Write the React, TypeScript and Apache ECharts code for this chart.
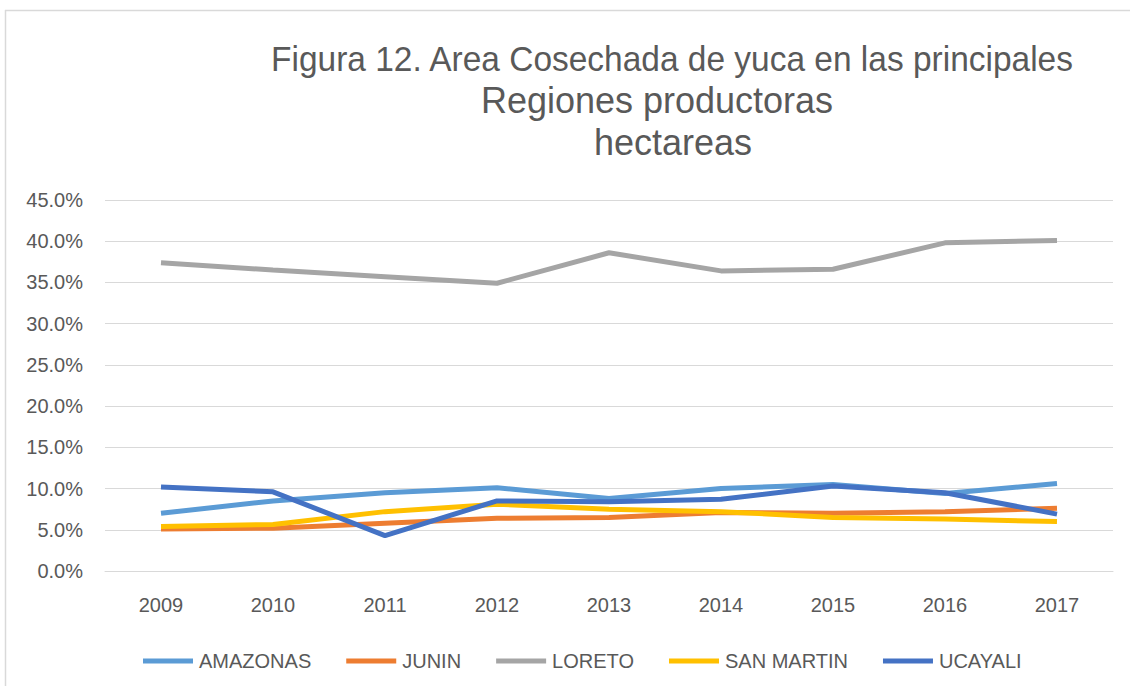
import React, { useEffect, useRef } from "react";
import * as echarts from "echarts";

const years = ["2009", "2010", "2011", "2012", "2013", "2014", "2015", "2016", "2017"];
const amazonas = [7.0, 8.5, 9.5, 10.1, 8.8, 10.0, 10.5, 9.4, 10.6];
const junin = [5.1, 5.2, 5.8, 6.4, 6.5, 7.1, 7.0, 7.2, 7.6];
const loreto = [37.4, 36.5, 35.7, 34.9, 38.6, 36.4, 36.6, 39.8, 40.1];
const sanMartin = [5.4, 5.65, 7.2, 8.1, 7.5, 7.2, 6.5, 6.3, 6.0];
const ucayali = [10.2, 9.6, 4.3, 8.5, 8.4, 8.7, 10.3, 9.5, 6.9];

const seriesNames = ["AMAZONAS", "JUNIN", "LORETO", "SAN MARTIN", "UCAYALI"];
const seriesData = [amazonas, junin, loreto, sanMartin, ucayali];
const seriesColors = ["#5B9BD5", "#ED7D31", "#A5A5A5", "#FFC000", "#4472C4"];

const titleLines = [
  "Figura 12. Area Cosechada de yuca en las principales",
  "Regiones productoras",
  "hectareas",
];

export default function App() {
  const ref = useRef<HTMLDivElement>(null);
  useEffect(() => {
    if (!ref.current) return;
    const chart = echarts.init(ref.current, null, { renderer: "svg" });
    const font = "'Liberation Sans', Arial, sans-serif";
    chart.setOption({
      animation: false,
      backgroundColor: "#ffffff",
      textStyle: { fontFamily: font },
      graphic: [
        { type: "line", shape: { x1: 5, y1: 10.5, x2: 1130, y2: 10.5 }, style: { stroke: "#d9d9d9", lineWidth: 1.5 } },
        { type: "line", shape: { x1: 5.5, y1: 10, x2: 5.5, y2: 686 }, style: { stroke: "#d9d9d9", lineWidth: 1.5 } },
        {
          type: "text", x: 672, y: 59, scaleX: 0.93,
          style: { text: titleLines[0], fill: "#595959", font: `36px ${font}`, textAlign: "center", textVerticalAlign: "middle" },
        },
        {
          type: "text", x: 657, y: 100,
          style: { text: titleLines[1], fill: "#595959", font: `36px ${font}`, textAlign: "center", textVerticalAlign: "middle" },
        },
        {
          type: "text", x: 673, y: 142,
          style: { text: titleLines[2], fill: "#595959", font: `36px ${font}`, textAlign: "center", textVerticalAlign: "middle" },
        },
      ],
      legend: {
        left: 138,
        top: 646,
        icon: "rect",
        itemWidth: 50,
        itemHeight: 5,
        itemGap: 35,
        textStyle: { color: "#595959", fontSize: 20, fontFamily: font, padding: [0, 0, 0, 1] },
        data: seriesNames,
      },
      grid: { left: 105, right: 17, top: 200, bottom: 115, containLabel: false },
      xAxis: {
        type: "category",
        data: years,
        boundaryGap: true,
        axisLine: { show: true, lineStyle: { color: "#d9d9d9", width: 1 } },
        axisTick: { show: false },
        axisLabel: { color: "#595959", fontSize: 20, margin: 24, fontFamily: font },
      },
      yAxis: {
        type: "value",
        min: 0,
        max: 45,
        interval: 5,
        axisLine: { show: false },
        axisTick: { show: false },
        axisLabel: {
          color: "#595959",
          fontSize: 20,
          margin: 22,
          fontFamily: font,
          formatter: (v: number) => `${v.toFixed(1)}%`,
        },
        splitLine: { lineStyle: { color: "#d9d9d9", width: 1 } },
      },
      series: seriesNames.map((name, i) => ({
        name,
        type: "line",
        data: seriesData[i],
        symbol: "none",
        showSymbol: false,
        lineStyle: { color: seriesColors[i], width: 5 },
        itemStyle: { color: seriesColors[i] },
      })),
    });
    return () => chart.dispose();
  }, []);
  return (
    <div
      ref={ref}
      style={{ position: "fixed", left: 0, top: 0, width: 1130, height: 686 }}
    />
  );
}
